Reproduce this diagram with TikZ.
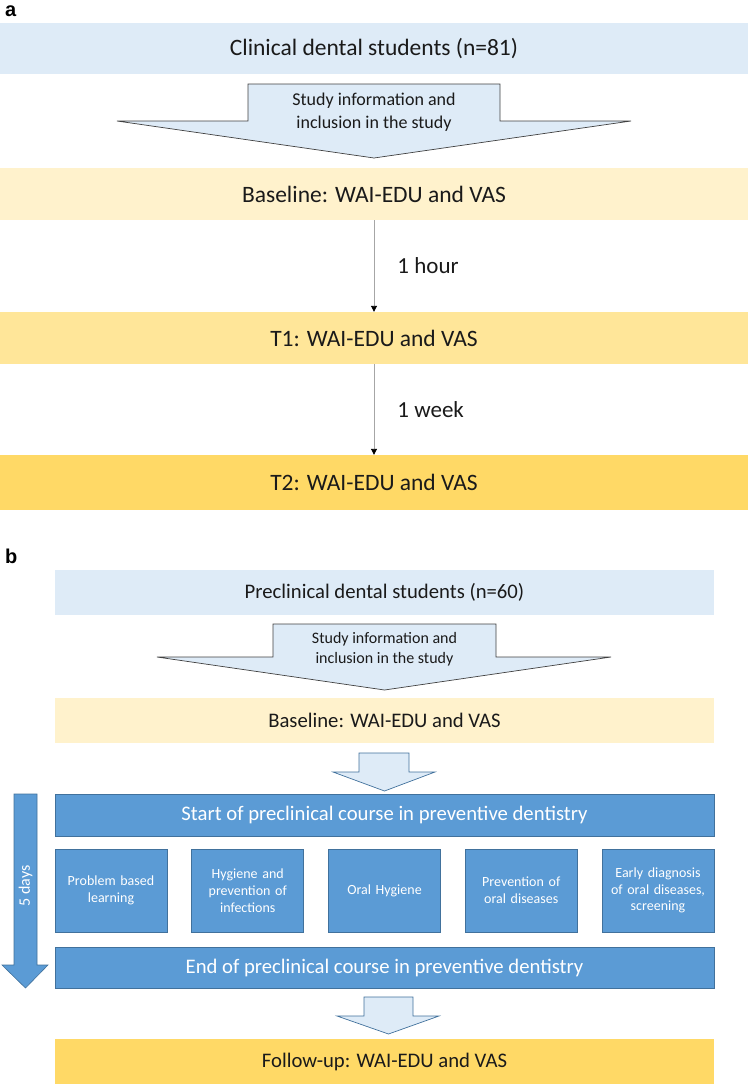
\documentclass[tikz,border=0pt]{standalone}
\usepackage{fontspec}
\setmainfont{Carlito}
\newfontfamily\lettrefont{Liberation Sans}
\usetikzlibrary{positioning,arrows.meta}

\definecolor{bleupale}{HTML}{DEEBF7}
\definecolor{jaune1}{HTML}{FFF2CC}
\definecolor{jaune2}{HTML}{FFE699}
\definecolor{jaune3}{HTML}{FFD966}
\definecolor{bleu}{HTML}{5B9BD5}
\definecolor{bleufonce}{HTML}{41719C}
\definecolor{gristrait}{HTML}{A6A6A6}
\definecolor{texte}{HTML}{1A1A1A}

\newcommand{\taille}[2]{\fontsize{#1}{#2}\selectfont}

\begin{document}
\begin{tikzpicture}[x=1pt,y=-1pt,
  boite/.style={rectangle,inner sep=0pt,align=center,text=texte},
  larga/.style={boite,minimum width=748pt,font=\taille{23.5}{28}},
  largb/.style={boite,minimum width=659pt,font=\taille{20.7}{25}},
  bleubox/.style={boite,fill=bleu,draw=bleufonce,line width=0.6pt,text=white},
  module/.style={bleubox,minimum width=112pt,minimum height=83pt,text width=104pt,font=\taille{14}{16.7}},
  grosse/.style={draw=black!75,fill=bleupale,line width=0.7pt},
  petite/.style={draw=bleufonce,fill=bleupale,line width=0.7pt},
  trait/.style={draw=gristrait,line width=0.9pt,-{Triangle[color=black,length=6pt,width=6pt]}},
  lettre/.style={font=\lettrefont\bfseries\taille{20}{20},anchor=base west,inner sep=0pt}
]
\useasboundingbox (0,0) rectangle (748,1085);

% partie a
\node[lettre] (a) at (5,16) {a};
\node[larga,fill=bleupale,minimum height=51pt] (clin) at (374,48.5) {Clinical dental students (n=81)};
\draw[grosse] (248,84) -- (500,84) -- (500,121) -- (631,121) -- (374,158) -- (117,121) -- (248,121) -- cycle;
\node[boite,font=\taille{18}{23}] (infoa) at (374,112.5) {Study information and\\inclusion in the study};
\node[larga,fill=jaune1,minimum height=52pt] (basea) at (374,194) {Baseline: WAI-EDU and VAS};
\node[larga,fill=jaune2,minimum height=52pt] (t1) at (374,338) {T1: WAI-EDU and VAS};
\node[larga,fill=jaune3,minimum height=55pt] (t2) at (374,482.5) {T2: WAI-EDU and VAS};
\draw[trait] (basea) -- (t1) node[midway,right=23pt,boite,font=\taille{23}{23}] (heure) {1 hour};
\draw[trait] (t1) -- (t2) node[midway,right=23pt,boite,font=\taille{23}{23}] (semaine) {1 week};

% partie b
\node[lettre] (b) at (5,563) {b};
\node[largb,fill=bleupale,minimum height=45pt] (preclin) at (384.5,592.5) {Preclinical dental students (n=60)};
\draw[grosse] (273,624) -- (496,624) -- (496,657) -- (611,657) -- (384.5,690) -- (157,657) -- (273,657) -- cycle;
\node[boite,font=\taille{16}{20}] (infob) at (384.5,649) {Study information and\\inclusion in the study};
\node[largb,fill=jaune1,minimum height=45pt] (baseb) at (384.5,720.5) {Baseline: WAI-EDU and VAS};
\draw[petite] (359,753) -- (409,753) -- (409,772) -- (435,772) -- (384.5,791) -- (333,772) -- (359,772) -- cycle;
\node[largb,bleubox,minimum height=42pt] (debut) at (384.5,815) {Start of preclinical course in preventive dentistry};
\node[module] (pbl) at (111,890.5) {Problem based\\learning};
\node[module] (hyg) at (247.75,890.5) {Hygiene and\\prevention of\\infections};
\node[module] (oral) at (384.5,890.5) {Oral Hygiene};
\node[module] (prev) at (521.25,890.5) {Prevention of\\oral diseases};
\node[module] (early) at (658,890.5) {Early diagnosis\\of oral diseases,\\screening};
\node[largb,bleubox,minimum height=41pt] (fin) at (384.5,967.5) {End of preclinical course in preventive dentistry};
\draw[fill=bleu,draw=bleufonce,line width=0.6pt] (14,794) -- (37,794) -- (37,965) -- (48,965) -- (25.5,988) -- (2,965) -- (14,965) -- cycle;
\node[boite,rotate=90,text=white,font=\taille{16}{16}] (jours) at (25.5,886) {5 days};
\draw[petite] (364,997) -- (413,997) -- (413,1016) -- (439,1016) -- (388.5,1034) -- (337,1016) -- (364,1016) -- cycle;
\node[largb,fill=jaune3,minimum height=45pt] (suivi) at (384.5,1061.5) {Follow-up: WAI-EDU and VAS};

\end{tikzpicture}
\end{document}
